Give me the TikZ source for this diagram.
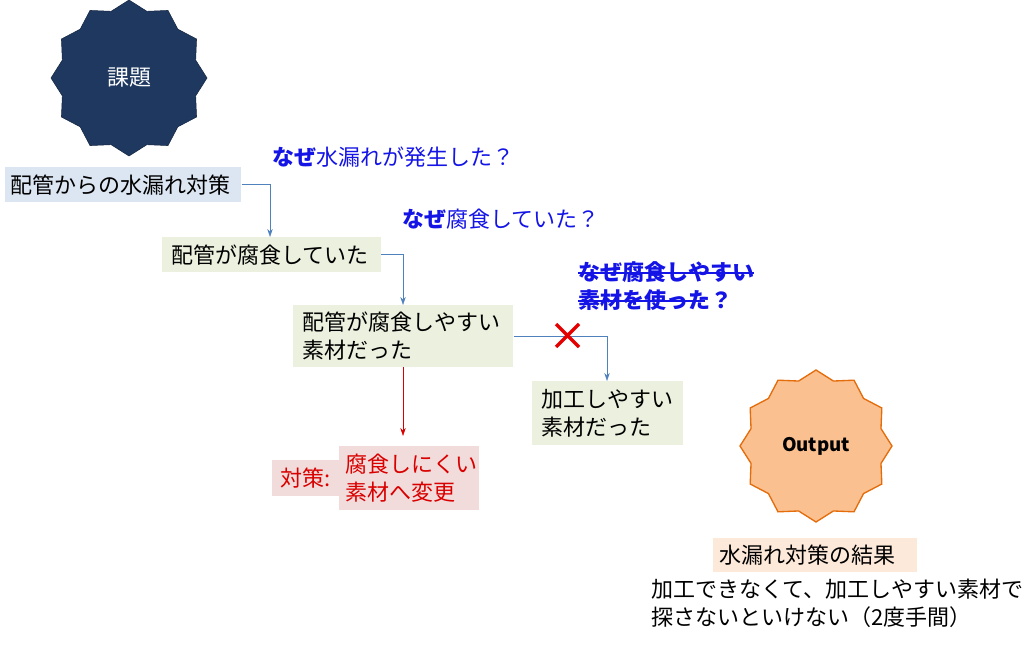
\documentclass[tikz,border=0pt]{standalone}
\usepackage{fontspec}
\setmainfont{Noto Sans CJK JP}
\usetikzlibrary{shapes.geometric,arrows.meta}
\definecolor{boxblue}{RGB}{220,230,242}
\definecolor{boxgreen}{RGB}{235,241,222}
\definecolor{boxpink}{RGB}{242,220,219}
\definecolor{boxpeach}{RGB}{253,233,217}
\definecolor{navy}{RGB}{31,56,95}
\definecolor{orangestar}{RGB}{250,192,144}
\definecolor{orangeedge}{RGB}{228,108,10}
\definecolor{linkblue}{RGB}{79,129,189}
\definecolor{askblue}{RGB}{20,20,230}
\begin{document}
\begin{tikzpicture}[x=0.75pt,y=0.75pt,yscale=-1,xscale=1,
  every node/.style={font=\fontsize{16.5}{21}\selectfont},
  stepbox/.style={fill=boxgreen,anchor=north west,inner xsep=7pt,inner ysep=0pt,align=left},
  link/.style={draw=linkblue,-{Stealth[length=6pt,width=4pt]}},
  ask/.style={text=askblue,anchor=west,inner sep=0pt,align=left}]
\useasboundingbox (0,0) rectangle (1024,649);

%stars
\node[star,star points=12,star point ratio=1.13,minimum size=117pt,fill=navy,draw=navy!70!black,text=white] (issue) at (129,78) {課題};
\node[star,star points=12,star point ratio=1.13,minimum size=114pt,fill=orangestar,draw=orangeedge,line width=1pt,font=\fontsize{14}{18}\selectfont\bfseries] (out) at (816,446) {Output};

%boxes
\node[stepbox,fill=boxblue,text width=169pt,minimum height=26pt,inner xsep=4pt] (p1) at (5,167) {配管からの水漏れ対策};
\node[stepbox,text width=150pt,minimum height=26pt] (p2) at (162,237) {配管が腐食していた};
\node[stepbox,text width=151pt,minimum height=46pt] (p3) at (293,305) {配管が腐食しやすい\\素材だった};
\node[stepbox,text width=99pt,minimum height=48pt] (p4) at (532,381) {加工しやすい\\素材だった};
\node[stepbox,fill=boxpink,text=red!85!black,text width=95pt,minimum height=48pt,inner xsep=5pt] (fix) at (339,446) {腐食しにくい\\素材へ変更};
\node[stepbox,fill=boxpink,text=red!85!black,minimum width=50pt,minimum height=27pt,inner xsep=4pt,anchor=east] (fixlbl) at (fix.west) {対策:};
\node[stepbox,fill=boxpeach,text width=143pt,minimum height=25.5pt,inner xsep=5pt] (res) at (713,538) {水漏れ対策の結果};
\node[anchor=north west,inner sep=0pt,align=left] (note) at (651,579) {加工できなくて、加工しやすい素材で\\探さないといけない（2度手間）};

%questions
\node[ask] (q1) at (272,157) {\bfseries なぜ\mdseries 水漏れが発生した？};
\node[ask] (q2) at (402,219) {\bfseries なぜ\mdseries 腐食していた？};
\node[ask,font=\fontsize{16.5}{21}\selectfont\bfseries] (q3) at (578,286) {なぜ腐食しやすい\\素材を使った？};
\draw[askblue,line width=1pt] (578,273) -- (754,273) (578,301) -- (705,301);

%connectors
\draw[link] (p1.east) -| (p2.north -| 270,0);
\draw[link] (p2.east) -| (p3.north -| 403,0);
\draw[link] (p3.east) -| (p4.north -| 607,0);
\draw[red!85!black,-{Stealth[length=6pt,width=4pt]}] (p3.south -| 403,0) -- (403,436);
\draw[red!90!black,line width=2.6pt] (556,324) -- (579,347) (579,324) -- (556,347);
\end{tikzpicture}
\end{document}
